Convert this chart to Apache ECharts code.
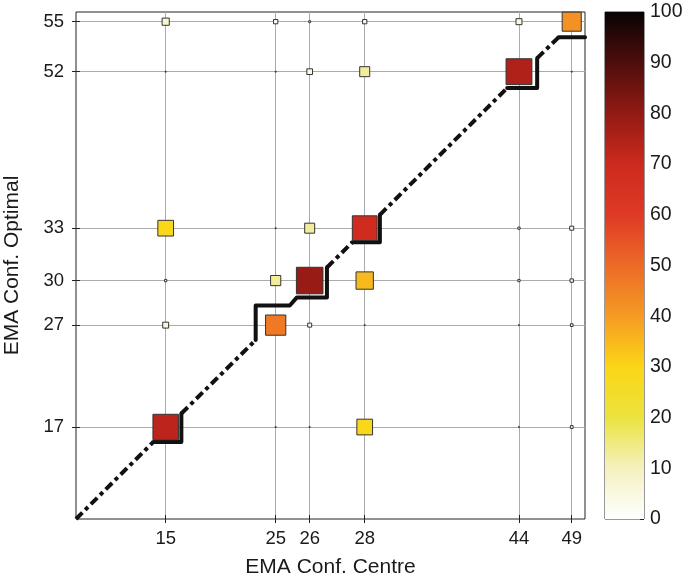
<!DOCTYPE html>
<html>
<head>
<meta charset="utf-8">
<script src="https://cdn.jsdelivr.net/npm/echarts@6/dist/echarts.min.js"></script>
<style>
html,body{margin:0;padding:0;background:#fff;}
#chart{width:685px;height:581px;}
</style>
</head>
<body>
<div id="chart"></div>
<script>
// ---- tick labels ----
const xLabels = [15, 25, 26, 28, 44, 49];
const yLabels = [17, 27, 30, 33, 52, 55];
// non-uniform axis scale: where each label sits along its axis (0-100)
const xScale = [17.62, 39.23, 45.91, 56.72, 87.03, 97.39];
const yScale = [18.14, 38.24, 47.03, 57.36, 88.23, 98.09];

// ---- values per "EMA Conf. Centre" column, in yLabels order (17,27,30,33,52,55) ----
const col15 = [73, 5, 1.1, 29, 0.4, 7];
const col25 = [0.3, 47, 13, 0.3, 0.3, 2.9];
const col26 = [0.3, 2.6, 79, 12.6, 4.7, 0.9];
const col28 = [29, 0.3, 35, 69, 12.6, 2.9];
const col44 = [0.4, 0.4, 1.1, 1.1, 75, 5.1];
const col49 = [1.5, 1.4, 2, 2.6, 0.4, 42];
const columns = [col15, col25, col26, col28, col44, col49];

// ---- stepped diagonal guide (axis units) ----
const guideDashed = [
  [[0, 0], [15.2, 15.2]],
  [[20.7, 20.8], [35.3, 35.3]],
  [[49.3, 49.6], [54.3, 54.6]],
  [[59.7, 60], [84.7, 85]],
  [[90.6, 90.9], [94.8, 95]]
];
const guideSolid = [
  [[15.2, 15.2], [20.7, 15.2], [20.7, 20.8]],
  [[35.3, 35.3], [35.3, 42.1], [42, 42.1], [43.4, 43.7], [49.3, 43.7], [49.3, 49.6]],
  [[54.3, 54.6], [59.7, 54.6], [59.7, 60]],
  [[84.7, 85], [90.6, 85], [90.6, 90.9]],
  [[94.8, 95], [100, 95]]
];

// ---- colour scale ----
const cmapTicks = [0, 100];
const cmap = ['#ffffff', '#f4f1bf', '#ebe33e', '#fbd616', '#f59b24', '#ed6a26',
              '#df3a26', '#cd2a1e', '#921a14', '#4e0e0c', '#080404'];

const points = [];
columns.forEach((col, i) => {
  col.forEach((v, j) => {
    points.push([xScale[i], yScale[j], v]);
  });
});

function labelFor(scale, labels, v) {
  let best = 0, bd = 1e9;
  scale.forEach((s, i) => { const d = Math.abs(s - v); if (d < bd) { bd = d; best = i; } });
  return bd < 0.5 ? String(labels[best]) : '';
}

const FONT = 'Liberation Sans, Arial, Helvetica, sans-serif';
const TXT = '#1a1a1a';

const series = [];
guideDashed.forEach(seg => series.push({
  type: 'line', xAxisIndex: 0, yAxisIndex: 0, data: seg, showSymbol: false, silent: true,
  z: 3, lineStyle: { color: '#111', width: 4, type: [9, 4, 4, 4], cap: 'butt' }
}));
guideSolid.forEach(seg => series.push({
  type: 'line', xAxisIndex: 0, yAxisIndex: 0, data: seg, showSymbol: false, silent: true,
  z: 3, lineStyle: { color: '#111', width: 4, type: 'solid', cap: 'round', join: 'round' }
}));
const scatterIndex = series.length;
series.push({
  type: 'scatter', xAxisIndex: 0, yAxisIndex: 0, z: 5,
  symbol: 'rect',
  symbolSize: d => Math.max(1, 3.1 * Math.sqrt(d[2]) - 1),
  itemStyle: { borderColor: '#333', borderWidth: 1, opacity: 1 },
  data: points
});
// colour bar
series.push({
  type: 'bar', xAxisIndex: 2, yAxisIndex: 2, barWidth: '100%', silent: true,
  data: [cmapTicks[1]],
  itemStyle: {
    color: new echarts.graphic.LinearGradient(0, 1, 0, 0,
      cmap.map((c, i) => ({ offset: i / (cmap.length - 1), color: c })))
  }
});

const tickStyle = { show: true, inside: true, length: 4, lineStyle: { color: '#222', width: 1 } };

const option = {
  animation: false,
  backgroundColor: '#fff',
  textStyle: { fontFamily: FONT },
  grid: [
    { left: 76, top: 12, width: 509, height: 507, show: true, borderColor: '#222', borderWidth: 1,
      backgroundColor: 'transparent', containLabel: false, outerBoundsMode: 'none' },
    { left: 605, top: 12, width: 39, height: 507, show: true, borderColor: '#333', borderWidth: 1,
      backgroundColor: 'transparent', containLabel: false, outerBoundsMode: 'none' }
  ],
  visualMap: {
    show: false, type: 'continuous', min: 0, max: 100, dimension: 2,
    seriesIndex: scatterIndex, inRange: { color: cmap }
  },
  xAxis: [
    {
      gridIndex: 0, type: 'value', min: 0, max: 100, position: 'bottom',
      name: 'EMA Conf. Centre', nameLocation: 'middle', nameGap: 38,
      nameTextStyle: { fontSize: 21, color: TXT, fontFamily: FONT },
      axisLine: { show: false },
      axisTick: Object.assign({ customValues: xScale }, tickStyle),
      axisLabel: { customValues: xScale, fontSize: 18.5, color: TXT, margin: 10, fontFamily: FONT,
        formatter: v => labelFor(xScale, xLabels, v) },
      splitLine: { show: true, lineStyle: { color: '#ababab', width: 1 } }
    },
    {
      gridIndex: 0, type: 'value', min: 0, max: 100, position: 'top',
      axisLine: { show: false },
      axisTick: Object.assign({ customValues: xScale }, tickStyle),
      axisLabel: { show: false, customValues: xScale },
      splitLine: { show: false }
    },
    {
      gridIndex: 1, type: 'category', data: [''], show: false
    }
  ],
  yAxis: [
    {
      gridIndex: 0, type: 'value', min: 0, max: 100, position: 'left',
      name: 'EMA Conf. Optimal', nameLocation: 'middle', nameGap: 53, nameRotate: 90,
      nameTextStyle: { fontSize: 21, color: TXT, fontFamily: FONT },
      axisLine: { show: false },
      axisTick: Object.assign({ customValues: yScale }, tickStyle),
      axisLabel: { customValues: yScale, fontSize: 18.5, color: TXT, margin: 12, fontFamily: FONT,
        formatter: v => labelFor(yScale, yLabels, v) },
      splitLine: { show: true, lineStyle: { color: '#ababab', width: 1 } }
    },
    {
      gridIndex: 0, type: 'value', min: 0, max: 100, position: 'right',
      axisLine: { show: false },
      axisTick: Object.assign({ customValues: yScale }, tickStyle),
      axisLabel: { show: false, customValues: yScale },
      splitLine: { show: false }
    },
    {
      gridIndex: 1, type: 'value', min: cmapTicks[0], max: cmapTicks[1], interval: 10, position: 'right',
      axisLine: { show: false },
      axisTick: { show: true, inside: true, length: 4, lineStyle: { color: '#222', width: 1 } },
      axisLabel: { fontSize: 19.5, color: TXT, margin: 6, fontFamily: FONT },
      splitLine: { show: false }
    }
  ],
  series: series
};

const chart = echarts.init(document.getElementById('chart'), null, { renderer: 'canvas' });
chart.setOption(option);
</script>
</body>
</html>
